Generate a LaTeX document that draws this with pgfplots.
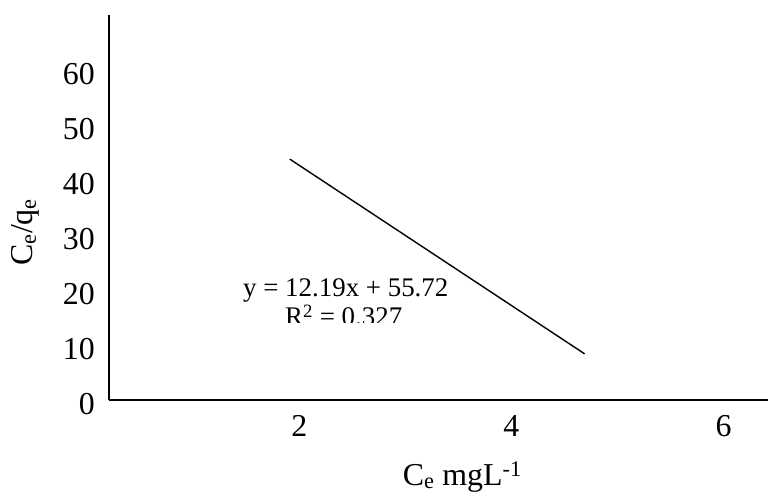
\documentclass[border=0pt]{standalone}
\usepackage{fontspec}
\setmainfont{Liberation Serif}
\usepackage{pgfplots}
\pgfplotsset{compat=1.18}
\begin{document}
\begin{tikzpicture}
\begin{axis}[
  at={(0,0)}, anchor=south west,
  scale only axis,
  width=659bp, height=385bp,
  xmin=0.205, xmax=6.42,
  ymin=0, ymax=70,
  axis x line=bottom, axis y line=left,
  axis line style={-, line width=1.5bp, black},
  xtick={2,4,6}, ytick={0,10,20,30,40,50,60},
  major tick length=0pt,
  /pgf/number format/assume math mode=true,
  tick label style={font=\fontsize{32}{38}\selectfont, inner sep=0pt},
  yticklabel style={anchor=east, xshift=-14bp, yshift=-4.5bp},
  xticklabel style={anchor=north, yshift=-15bp},
  xlabel={C\textsubscript{e} mgL\textsuperscript{-1}},
  ylabel={C\textsubscript{e}/q\textsubscript{e}},
  label style={font=\fontsize{32}{38}\selectfont, inner sep=0pt},
  xlabel style={at={(axis description cs:0.536,-0.221)}, anchor=base},
  ylabel style={at={(axis description cs:-0.1275,0.436)}, anchor=center, rotate=0},
  clip=false,
]
\addplot[black, line width=1.4bp] coordinates {(1.91,43.8) (4.69,8.4)};
\end{axis}
\node[anchor=base west, inner sep=0pt, font=\fontsize{27}{31}\selectfont] at (134bp,103bp) {y = 12.19x + 55.72};
\begin{scope}
\clip (150bp,77bp) rectangle (320bp,99bp);
\node[anchor=base west, inner sep=0pt, font=\fontsize{27}{31}\selectfont] at (176bp,74bp) {R\textsuperscript{2} = 0.327};
\end{scope}
\pgfresetboundingbox
\useasboundingbox (-109bp,-93bp) rectangle (659bp,400bp);
\end{tikzpicture}
\end{document}
